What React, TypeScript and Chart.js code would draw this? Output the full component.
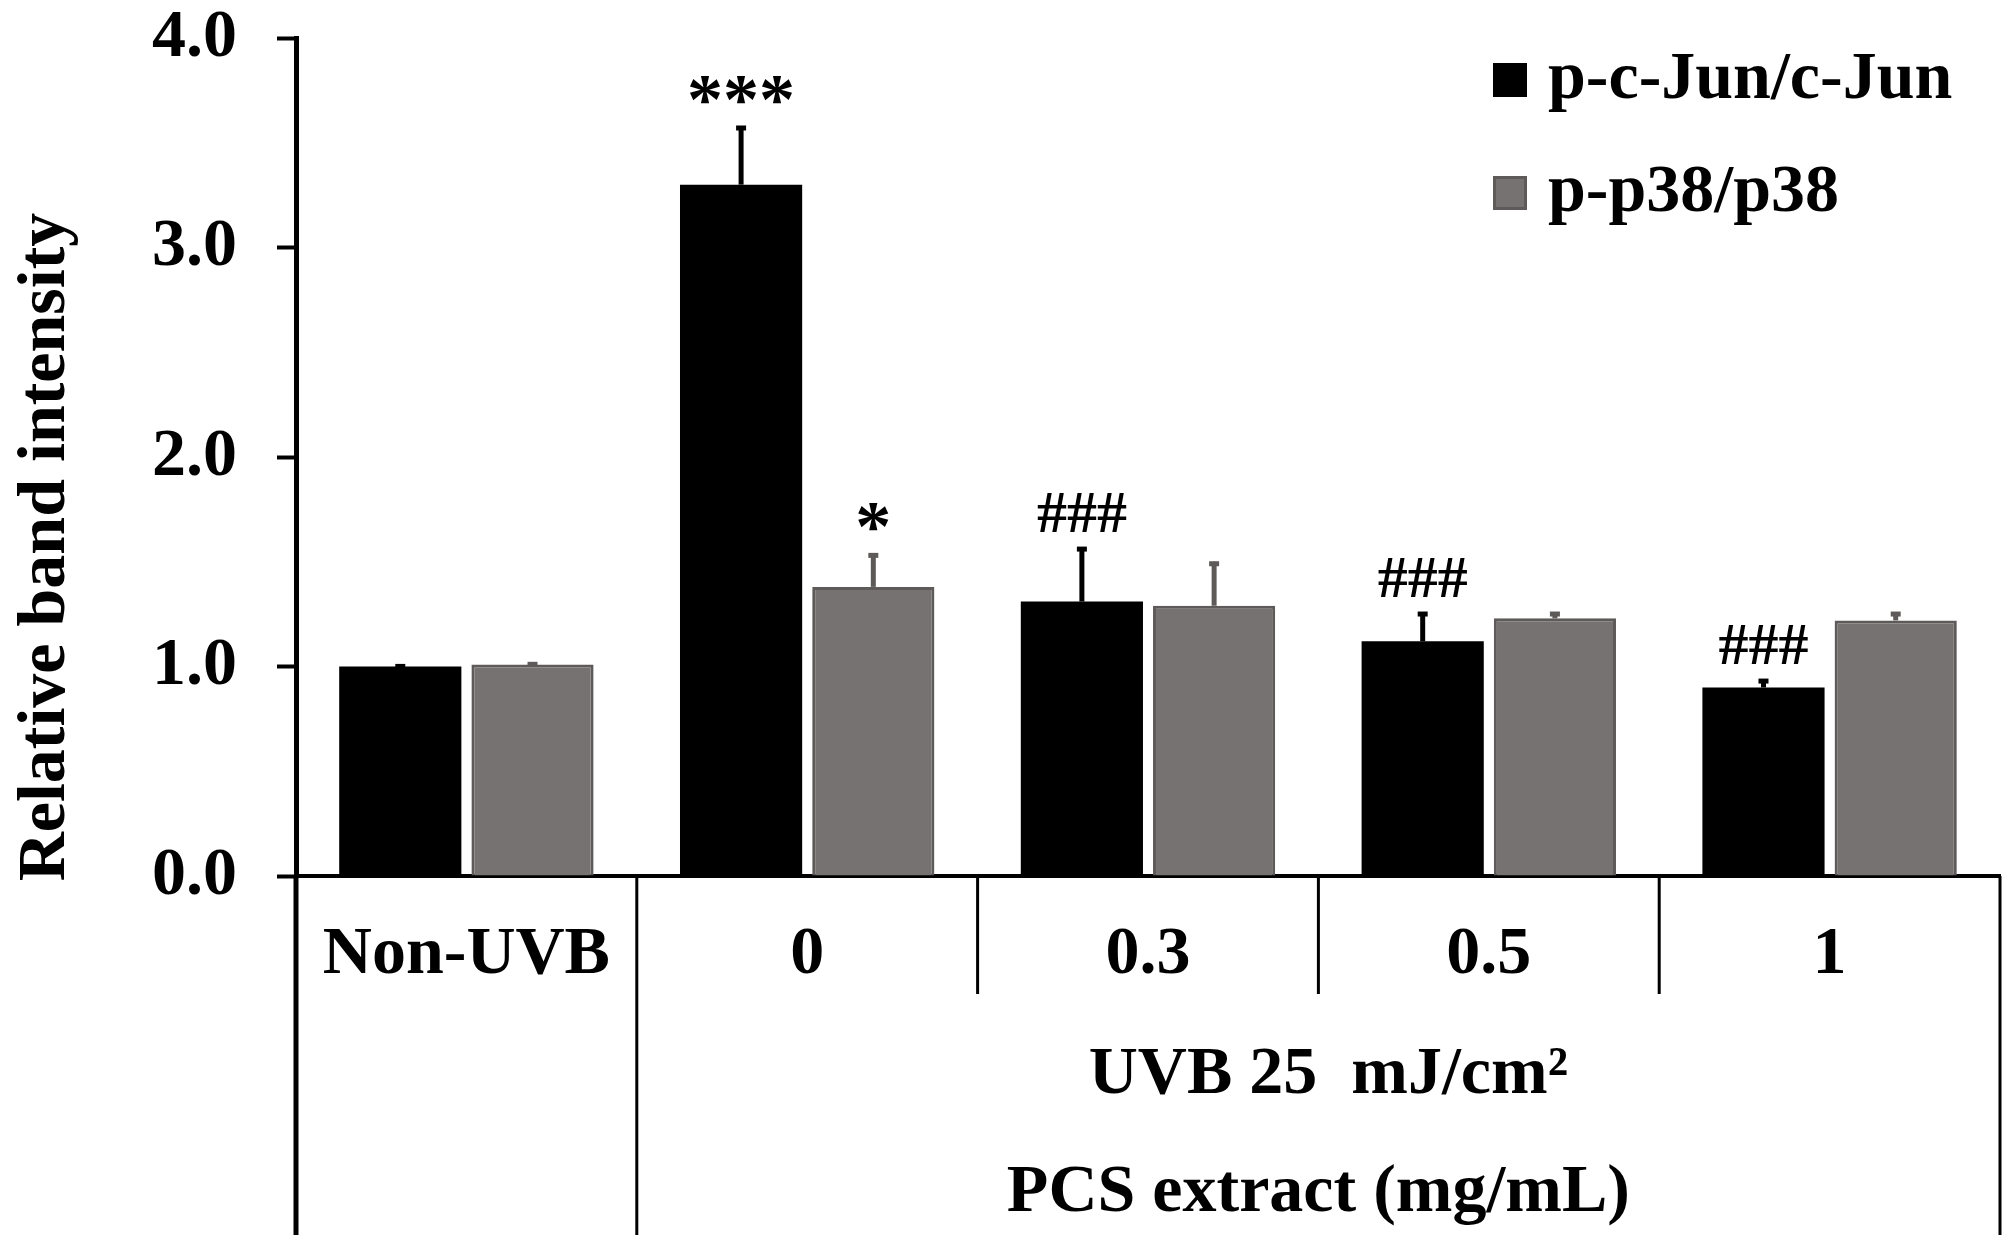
import React, { useEffect, useRef } from 'react';
import Chart from 'chart.js/auto';

// values
const categories = ['Non-UVB', '0', '0.3', '0.5', '1'];
const seriesNames = ['p-c-Jun/c-Jun', 'p-p38/p38'];
const cJunMeans = [1.0, 3.3, 1.31, 1.12, 0.9];
const cJunErrors = [0.01, 0.28, 0.26, 0.14, 0.04];
const cJunMarks = ['', '***', '###', '###', '###'];
const p38Means = [1.01, 1.38, 1.29, 1.23, 1.22];
const p38Errors = [0.01, 0.16, 0.21, 0.03, 0.04];
const p38Marks = ['', '*', '', '', ''];
const yTicks = [0, 1, 2, 3, 4];
const groupLabels = ['UVB 25  mJ/cm\u00b2', 'PCS extract (mg/mL)'];
const yTitle = 'Relative band intensity';
// category boundaries whose divider runs to the bottom of the figure
const outerEdges = [0, 1, 5];

const FONT = '"Liberation Serif", "Times New Roman", serif';
const BLACK = '#000000';
const GRAY = '#777272';
const GRAY_EDGE = '#5f5a5a';

const extras = {
  id: 'figureExtras',
  afterDatasetsDraw(chart: any) {
    const { ctx } = chart;
    const ys = chart.scales.y;
    chart.data.datasets.forEach((ds: any, d: number) => {
      const meta = chart.getDatasetMeta(d);
      meta.data.forEach((bar: any, i: number) => {
        const top = ys.getPixelForValue(ds.data[i] + ds.errors[i]);
        ctx.save();
        ctx.strokeStyle = d === 0 ? BLACK : GRAY_EDGE;
        ctx.lineWidth = 5;
        ctx.beginPath();
        ctx.moveTo(bar.x, bar.y);
        ctx.lineTo(bar.x, top);
        ctx.stroke();
        ctx.beginPath();
        ctx.moveTo(bar.x - 5, top + 2);
        ctx.lineTo(bar.x + 5, top + 2);
        ctx.stroke();
        const mark = ds.marks[i];
        if (mark) {
          const star = mark.startsWith('*');
          ctx.fillStyle = BLACK;
          ctx.font = `bold ${star ? 72 : 60}px ${FONT}`;
          ctx.textAlign = 'center';
          ctx.textBaseline = 'alphabetic';
          const m = ctx.measureText(mark);
          ctx.fillText(mark, bar.x, top - (star ? 22 : 15) - m.actualBoundingBoxDescent);
        }
        ctx.restore();
      });
    });
  },
  afterDraw(chart: any) {
    const { ctx } = chart;
    const xs = chart.scales.x;
    const step = xs.width / categories.length;
    ctx.save();
    ctx.strokeStyle = BLACK;

    // divider lines under the category axis
    for (let i = 0; i <= categories.length; i++) {
      const px = xs.left + i * step;
      const full = outerEdges.includes(i);
      ctx.lineWidth = i === 0 ? 5 : 3;
      ctx.beginPath();
      ctx.moveTo(px, xs.top);
      ctx.lineTo(px, full ? chart.height - 6 : xs.top + 118);
      ctx.stroke();
    }

    // group labels under the UVB categories
    const cx = (xs.getPixelForValue(1) + xs.getPixelForValue(4)) / 2;
    ctx.fillStyle = BLACK;
    ctx.font = `bold 68px ${FONT}`;
    ctx.textAlign = 'center';
    ctx.textBaseline = 'middle';
    ctx.fillText(groupLabels[0], cx + 10, xs.top + 199);
    ctx.fillText(groupLabels[1], cx, xs.top + 317);

    // y title
    ctx.save();
    ctx.translate(46, 547);
    ctx.rotate(-Math.PI / 2);
    ctx.fillText(yTitle, 0, 0);
    ctx.restore();

    // legend
    chart.data.datasets.forEach((ds: any, d: number) => {
      const cy = 80 + d * 113;
      ctx.fillStyle = ds.backgroundColor;
      ctx.fillRect(1493, cy - 17, 34, 34);
      if (d === 1) {
        ctx.lineWidth = 3;
        ctx.strokeStyle = GRAY_EDGE;
        ctx.strokeRect(1494.5, cy - 15.5, 31, 31);
      }
      ctx.fillStyle = BLACK;
      ctx.textAlign = 'left';
      ctx.fillText(ds.label, 1548, cy);
    });
    ctx.restore();
  },
};

export default function App() {
  const ref = useRef<HTMLCanvasElement>(null);

  useEffect(() => {
    if (!ref.current) return;
    const chart = new Chart(ref.current, {
      type: 'bar',
      data: {
        labels: categories,
        datasets: [
          {
            label: seriesNames[0],
            data: cJunMeans,
            errors: cJunErrors,
            marks: cJunMarks,
            backgroundColor: BLACK,
            borderColor: BLACK,
            borderWidth: 0,
            barPercentage: 0.924,
            categoryPercentage: 0.776,
          } as any,
          {
            label: seriesNames[1],
            data: p38Means,
            errors: p38Errors,
            marks: p38Marks,
            backgroundColor: GRAY,
            borderColor: GRAY_EDGE,
            borderWidth: 3,
            barPercentage: 0.924,
            categoryPercentage: 0.776,
          } as any,
        ],
      },
      options: {
        animation: false,
        responsive: true,
        maintainAspectRatio: false,
        layout: { padding: { top: 38, right: 12, left: 0, bottom: 0 } },
        plugins: { legend: { display: false }, tooltip: { enabled: false } },
        scales: {
          x: {
            grid: { display: false, drawTicks: false },
            border: { display: true, color: BLACK, width: 4 },
            ticks: {
              color: BLACK,
              font: { family: FONT, size: 68, weight: 'bold', lineHeight: 1.2 },
              padding: 39,
              maxRotation: 0,
              autoSkip: false,
            },
            afterFit: (s: any) => { s.height = 365; s.paddingLeft = 0; s.paddingRight = 0; },
          },
          y: {
            min: yTicks[0],
            max: yTicks[yTicks.length - 1],
            afterBuildTicks: (s: any) => { s.ticks = yTicks.map((v) => ({ value: v })); },
            grid: { drawOnChartArea: false, drawTicks: true, tickLength: 19, tickWidth: 4, tickColor: BLACK },
            border: { display: true, color: BLACK, width: 5 },
            ticks: {
              color: BLACK,
              font: { family: FONT, size: 68, weight: 'bold', lineHeight: 1 },
              padding: 40,
              callback: (v: any) => Number(v).toFixed(1),
            },
            afterFit: (s: any) => { s.width = 296; s.paddingTop = 0; s.paddingBottom = 0; },
          },
        },
      },
      plugins: [extras],
    });
    return () => chart.destroy();
  }, []);

  return (
    <div style={{ position: 'absolute', left: 0, top: 0, width: 2012, height: 1241, background: '#fff' }}>
      <canvas ref={ref}></canvas>
    </div>
  );
}
